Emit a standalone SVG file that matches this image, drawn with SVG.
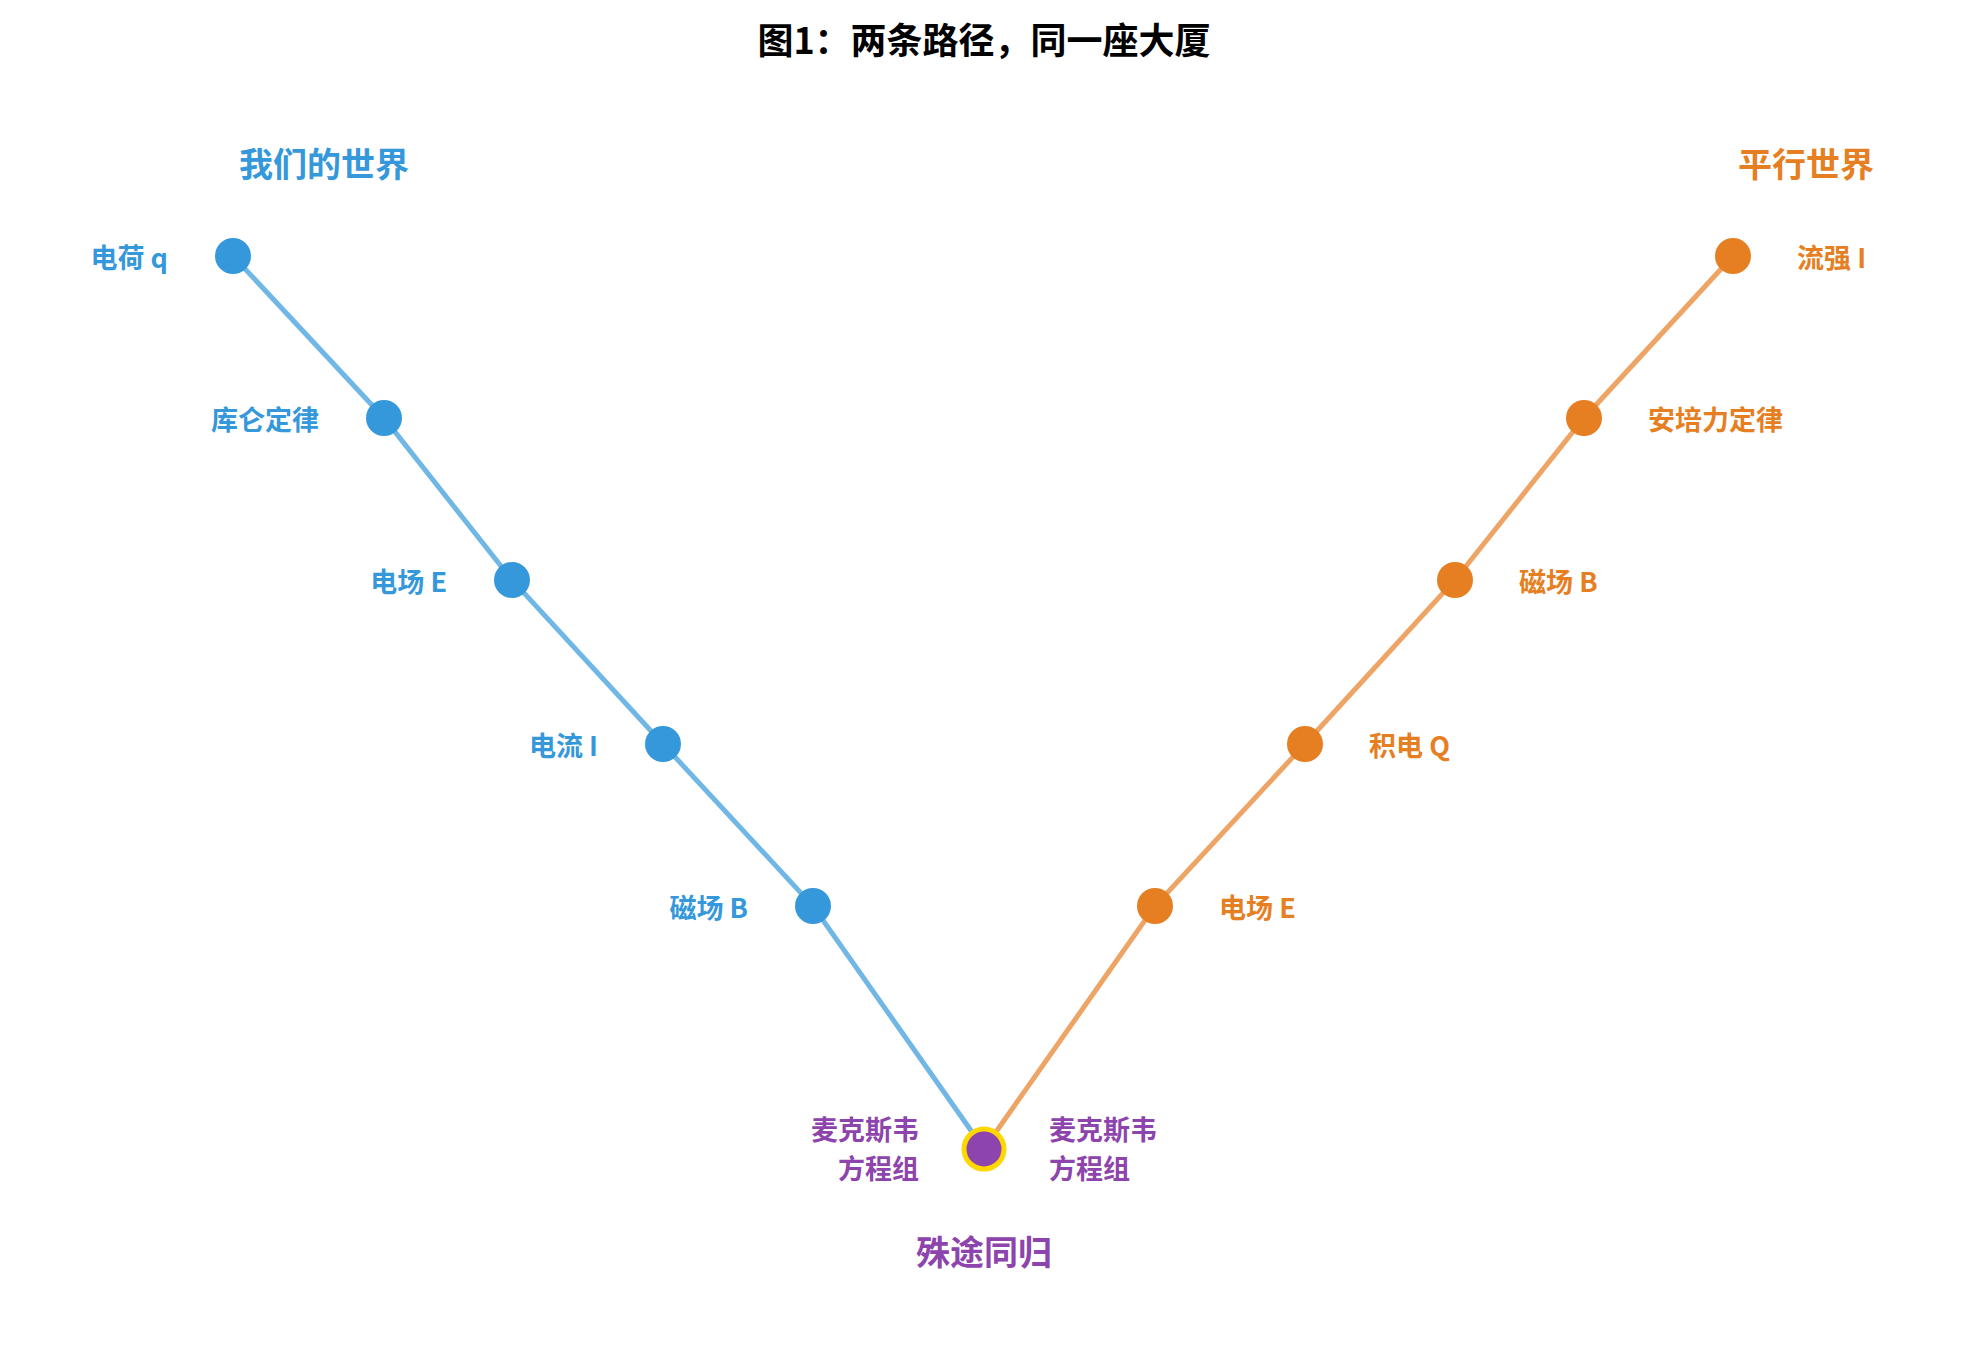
<svg xmlns="http://www.w3.org/2000/svg" width="1968" height="1368" viewBox="0 0 1968 1368">
<style>
text{font-family:"Noto Sans CJK SC","Liberation Sans",sans-serif;font-weight:bold;dominant-baseline:central}
.b{fill:#3498db}.o{fill:#e67e22}.p{fill:#8e44ad}
.l{font-size:27px}.g{font-size:34px}
.lb{stroke:#3498db;stroke-opacity:.7;stroke-width:5;fill:none}
.lo{stroke:#e67e22;stroke-opacity:.7;stroke-width:5;fill:none}
</style>
<rect width="1968" height="1368" fill="#fff"/>
<text x="984" y="38" text-anchor="middle" font-size="36" fill="#000">图1：两条路径，同一座大厦</text>
<g id="connectors">
<polyline class="lb" points="233,256 384,418 512,580 663,744 813,906 984,1149"/>
<polyline class="lo" points="1733,256 1584,418 1455,580 1305,744 1155,906 984,1149"/>
</g>
<g id="title-left"><text class="b g" x="324" y="162" text-anchor="middle">我们的世界</text></g>
<g id="title-right"><text class="o g" x="1806" y="162" text-anchor="middle">平行世界</text></g>
<g id="l1"><circle class="b" cx="233" cy="256" r="18"/><text class="b l" x="168" y="256" text-anchor="end">电荷 q</text></g>
<g id="l2"><circle class="b" cx="384" cy="418" r="18"/><text class="b l" x="319" y="418" text-anchor="end">库仑定律</text></g>
<g id="l3"><circle class="b" cx="512" cy="580" r="18"/><text class="b l" x="447" y="580" text-anchor="end">电场 E</text></g>
<g id="l4"><circle class="b" cx="663" cy="744" r="18"/><text class="b l" x="598" y="744" text-anchor="end">电流 I</text></g>
<g id="l5"><circle class="b" cx="813" cy="906" r="18"/><text class="b l" x="748" y="906" text-anchor="end">磁场 B</text></g>
<g id="r1"><circle class="o" cx="1733" cy="256" r="18"/><text class="o l" x="1797" y="256">流强 I</text></g>
<g id="r2"><circle class="o" cx="1584" cy="418" r="18"/><text class="o l" x="1648" y="418">安培力定律</text></g>
<g id="r3"><circle class="o" cx="1455" cy="580" r="18"/><text class="o l" x="1519" y="580">磁场 B</text></g>
<g id="r4"><circle class="o" cx="1305" cy="744" r="18"/><text class="o l" x="1369" y="744">积电 Q</text></g>
<g id="r5"><circle class="o" cx="1155" cy="906" r="18"/><text class="o l" x="1219" y="906">电场 E</text></g>
<g id="maxwell">
<circle cx="984" cy="1149" r="20" fill="#8e44ad" stroke="#ffd700" stroke-width="5"/>
<text class="p l" x="919" y="1128" text-anchor="end">麦克斯韦</text>
<text class="p l" x="919" y="1167" text-anchor="end">方程组</text>
<text class="p l" x="1049" y="1128">麦克斯韦</text>
<text class="p l" x="1049" y="1167">方程组</text>
</g>
<g id="converge"><text class="p g" x="984" y="1250" text-anchor="middle">殊途同归</text></g>
</svg>
